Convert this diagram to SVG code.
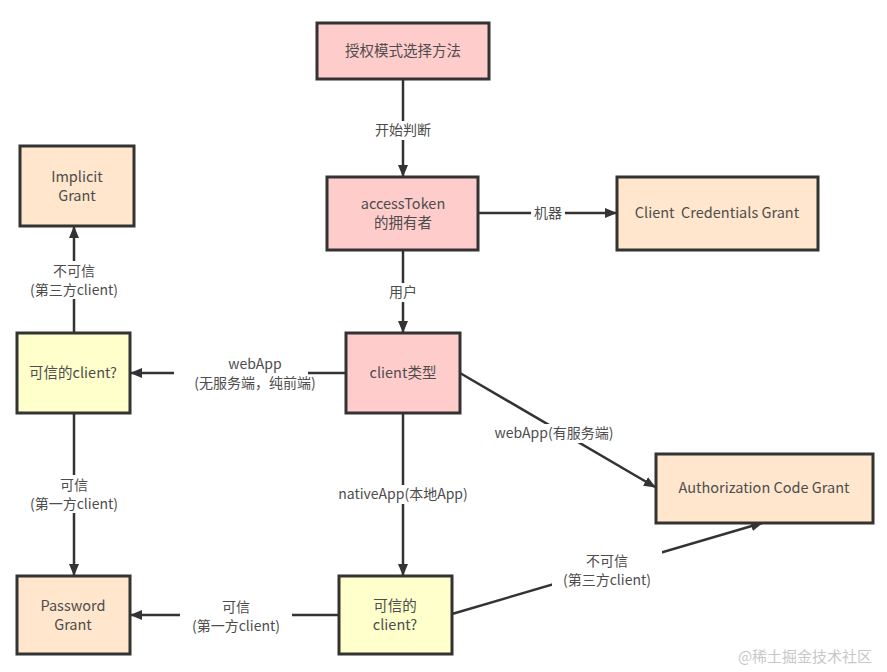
<svg xmlns="http://www.w3.org/2000/svg" width="887" height="672" viewBox="0 0 887 672">
<style>
.n{stroke:#333;stroke-width:3}
.pink{fill:#FFCCCC}
.peach{fill:#FFE6CC}
.yel{fill:#FFFFCC}
text{font-family:"Microsoft YaHei","Noto Sans CJK SC","Noto Sans",sans-serif;fill:#4d4d4d;text-anchor:middle}
.t{font-size:14.5px}
.l{font-size:14px}
.e{stroke:#333;stroke-width:2.5;fill:none}
.bg{fill:#fff}
</style>
<defs>
<marker id="ah" viewBox="0 0 12 10" refX="11" refY="5" markerWidth="12" markerHeight="10" markerUnits="userSpaceOnUse" orient="auto">
<path d="M0,0 L12,5 L0,10 Z" fill="#333"/>
</marker>
</defs>
<rect width="887" height="672" fill="#fff"/>
<g id="connectors">
<line class="e" x1="403" y1="79" x2="403" y2="176" marker-end="url(#ah)"/>
<line class="e" x1="478" y1="213" x2="616" y2="213" marker-end="url(#ah)"/>
<line class="e" x1="403" y1="250" x2="403" y2="332" marker-end="url(#ah)"/>
<line class="e" x1="346" y1="373" x2="131" y2="373" marker-end="url(#ah)"/>
<line class="e" x1="74" y1="333" x2="74" y2="227" marker-end="url(#ah)"/>
<line class="e" x1="74" y1="413" x2="74" y2="575" marker-end="url(#ah)"/>
<line class="e" x1="460" y1="373" x2="655" y2="487" marker-end="url(#ah)"/>
<line class="e" x1="403" y1="413" x2="403" y2="575" marker-end="url(#ah)"/>
<line class="e" x1="339" y1="615" x2="131" y2="615" marker-end="url(#ah)"/>
<line class="e" x1="452" y1="614" x2="762" y2="523" marker-end="url(#ah)"/>
<rect class="bg" x="371" y="121" width="64" height="19"/>
<text class="l" x="403" y="135">开始判断</text>
<rect class="bg" x="531" y="204" width="34" height="19"/>
<text class="l" x="548" y="218">机器</text>
<rect class="bg" x="386" y="283" width="34" height="19"/>
<text class="l" x="403" y="297">用户</text>
<rect class="bg" x="174" y="354" width="134" height="38"/>
<text class="l" x="255" y="369">webApp</text>
<text class="l" x="255" y="388">(无服务端，纯前端)</text>
<rect class="bg" x="20" y="261" width="108" height="38"/>
<text class="l" x="74" y="276">不可信</text>
<text class="l" x="74" y="295">(第三方client)</text>
<rect class="bg" x="20" y="475" width="108" height="38"/>
<text class="l" x="74" y="490">可信</text>
<text class="l" x="74" y="509">(第一方client)</text>
<rect class="bg" x="486" y="424" width="136" height="19"/>
<text class="l" x="554" y="438">webApp(有服务端)</text>
<rect class="bg" x="328" y="485" width="150" height="19"/>
<text class="l" x="403" y="499">nativeApp(本地App)</text>
<rect class="bg" x="180" y="597" width="112" height="38"/>
<text class="l" x="236" y="612">可信</text>
<text class="l" x="236" y="631">(第一方client)</text>
<rect class="bg" x="552" y="551" width="110" height="38"/>
<text class="l" x="607" y="566">不可信</text>
<text class="l" x="607" y="585">(第三方client)</text>
</g>
<g id="start">
<rect class="n pink" x="317" y="23" width="172" height="56"/>
<text class="t" x="403" y="56">授权模式选择方法</text>
</g>
<g id="owner">
<rect class="n pink" x="327" y="177" width="151" height="73"/>
<text class="t" x="403" y="209">accessToken</text>
<text class="t" x="403" y="228">的拥有者</text>
</g>
<g id="ccgrant">
<rect class="n peach" x="617" y="177" width="201" height="73"/>
<text class="t" x="717" y="218" xml:space="preserve">Client  Credentials Grant</text>
</g>
<g id="clienttype">
<rect class="n pink" x="346" y="333" width="114" height="80"/>
<text class="t" x="403" y="378">client类型</text>
</g>
<g id="implicit">
<rect class="n peach" x="20" y="146" width="114" height="80"/>
<text class="t" x="77" y="182">Implicit</text>
<text class="t" x="77" y="201">Grant</text>
</g>
<g id="trusted1">
<rect class="n yel" x="17" y="333" width="113" height="80"/>
<text class="t" x="73" y="378">可信的client?</text>
</g>
<g id="password">
<rect class="n peach" x="17" y="576" width="113" height="78"/>
<text class="t" x="73" y="611">Password</text>
<text class="t" x="73" y="630">Grant</text>
</g>
<g id="trusted2">
<rect class="n yel" x="339" y="576" width="113" height="78"/>
<text class="t" x="395" y="611">可信的</text>
<text class="t" x="395" y="630">client?</text>
</g>
<g id="authcode">
<rect class="n peach" x="656" y="454" width="217" height="69"/>
<text class="t" x="764" y="493">Authorization Code Grant</text>
</g>
<text x="805" y="662" style="font-size:15px;fill:#c8c8c8">@稀土掘金技术社区</text>
</svg>
